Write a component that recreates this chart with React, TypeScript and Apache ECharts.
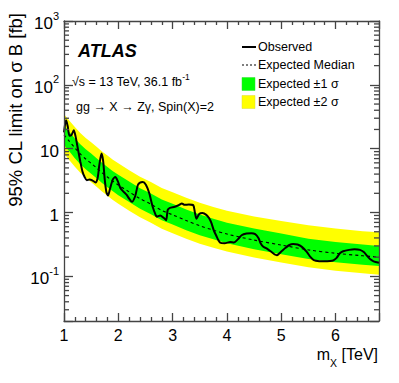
import React, { useEffect, useRef } from "react";
import * as echarts from "echarts";

// ---- data ----
const bandMass = [1.0, 1.1, 1.2, 1.3, 1.4, 1.5, 1.6, 1.7, 1.8, 1.9, 2.0, 2.2, 2.4, 2.6, 2.8, 3.0, 3.25, 3.5, 3.75, 4.0, 4.5, 5.0, 5.5, 6.0, 6.5, 6.8];
const expectedMedian = [16.5, 13.0, 10.3, 8.3, 6.9, 5.9, 5.0, 4.2, 3.6, 3.1, 2.7, 2.1, 1.65, 1.35, 1.08, 0.92, 0.75, 0.62, 0.53, 0.46, 0.37, 0.31, 0.26, 0.23, 0.21, 0.2];
const expectedPlus2 = [34.5, 27.5, 21.8, 17.6, 14.7, 12.6, 10.7, 9.0, 7.8, 6.7, 5.9, 4.6, 3.65, 3.0, 2.42, 2.07, 1.7, 1.42, 1.22, 1.07, 0.87, 0.74, 0.63, 0.56, 0.51, 0.49];
const expectedPlus1 = [23.0, 18.3, 14.5, 11.7, 9.8, 8.4, 7.1, 6.0, 5.15, 4.45, 3.9, 3.05, 2.4, 1.98, 1.6, 1.37, 1.12, 0.93, 0.8, 0.69, 0.56, 0.47, 0.39, 0.345, 0.315, 0.3];
const expectedMinus1 = [11.4, 9.0, 7.1, 5.7, 4.75, 4.05, 3.45, 2.9, 2.5, 2.15, 1.87, 1.46, 1.15, 0.94, 0.76, 0.65, 0.53, 0.44, 0.38, 0.33, 0.265, 0.222, 0.187, 0.166, 0.152, 0.145];
const expectedMinus2 = [8.4, 6.6, 5.2, 4.2, 3.5, 2.98, 2.53, 2.13, 1.83, 1.57, 1.37, 1.07, 0.84, 0.69, 0.555, 0.475, 0.39, 0.325, 0.28, 0.245, 0.197, 0.165, 0.139, 0.122, 0.112, 0.106];

const observedMass = [1.0, 1.02, 1.04, 1.07, 1.1, 1.14, 1.18, 1.21, 1.26, 1.3, 1.34, 1.38, 1.42, 1.47, 1.52, 1.58, 1.62, 1.65, 1.69, 1.72, 1.75, 1.78, 1.81, 1.85, 1.9, 1.945, 1.99, 2.04, 2.09, 2.15, 2.2, 2.25, 2.31, 2.36, 2.4, 2.45, 2.51, 2.57, 2.63, 2.68, 2.71, 2.77, 2.84, 2.88, 2.91, 2.95, 3.04, 3.12, 3.17, 3.22, 3.3, 3.38, 3.41, 3.44, 3.49, 3.55, 3.62, 3.67, 3.71, 3.76, 3.8, 3.87, 3.96, 4.06, 4.13, 4.2, 4.27, 4.36, 4.45, 4.52, 4.58, 4.62, 4.67, 4.73, 4.81, 4.88, 4.92, 5.0, 5.08, 5.15, 5.22, 5.3, 5.38, 5.47, 5.54, 5.6, 5.7, 5.8, 5.9, 5.96, 6.02, 6.08, 6.14, 6.25, 6.35, 6.45, 6.52, 6.58, 6.64, 6.7, 6.8];
const observedLimit = [18, 24, 28, 22, 16, 16.5, 19.5, 16, 9.5, 6.3, 4.4, 3.6, 3.2, 3.3, 3.2, 2.95, 3.5, 5.5, 8.4, 6.5, 3.3, 2.1, 1.85, 2.4, 3.3, 3.6, 3.1, 2.4, 2.15, 1.9, 1.65, 1.47, 1.8, 2.7, 2.95, 3.0, 2.7, 2.0, 1.25, 0.95, 0.86, 0.9, 0.82, 0.76, 1.1, 1.18, 1.23, 1.32, 1.39, 1.32, 1.33, 1.3, 1.0, 0.8, 0.95, 0.98, 0.92, 0.82, 0.7, 0.52, 0.44, 0.34, 0.33, 0.345, 0.34, 0.38, 0.44, 0.47, 0.475, 0.46, 0.4, 0.33, 0.29, 0.275, 0.245, 0.22, 0.215, 0.245, 0.28, 0.31, 0.32, 0.315, 0.29, 0.242, 0.2, 0.18, 0.173, 0.172, 0.174, 0.178, 0.195, 0.23, 0.248, 0.26, 0.265, 0.26, 0.24, 0.21, 0.185, 0.172, 0.163];

const xRange = [1, 6.8];
const yRange = [0.02, 1000];
const yMinorMultipliers = [2, 3, 4, 5, 6, 7, 8, 9];
const yDecades = [0.01, 0.1, 1, 10, 100];

const legendLabels = ["Observed", "Expected Median", "Expected \u00b11 \u03c3", "Expected \u00b12 \u03c3"];
const yTitle = "95% CL limit on \u03c3 B [fb]";

const FONT = "'Liberation Sans', Arial, Helvetica, sans-serif";
const AXIS_COLOR = "#444";

function App() {
  const ref = useRef<HTMLDivElement>(null);
  useEffect(() => {
    if (!ref.current) return;
    const chart = echarts.init(ref.current, undefined, { renderer: "svg" });

    const bandPolygon = (upper: number[], lower: number[], fill: string) => ({
      type: "custom",
      coordinateSystem: "cartesian2d",
      clip: true,
      silent: true,
      data: [[bandMass[0], lower[0]]],
      renderItem: (_p: any, api: any) => {
        const pts: number[][] = [];
        for (let i = 0; i < bandMass.length; i++) pts.push(api.coord([bandMass[i], upper[i]]));
        for (let i = bandMass.length - 1; i >= 0; i--) pts.push(api.coord([bandMass[i], lower[i]]));
        return { type: "polygon", shape: { points: pts }, style: { fill, stroke: null } };
      },
    });

    const minorYValues: number[] = [];
    yDecades.forEach((d) => yMinorMultipliers.forEach((m) => {
      const v = d * m;
      if (v > yRange[0] && v < yRange[1]) minorYValues.push(v);
    }));

    const yTickFormatter = (v: number) => {
      const l = Math.log10(v);
      const e = Math.round(l);
      if (Math.abs(l - e) > 1e-6) return "";
      if (e === 0) return "{b|1}";
      if (e === 1) return "{b|10}";
      return "{b|10}{s|" + (e < 0 ? "-" + -e : String(e)) + "}";
    };

    const xAxisBase = {
      type: "value",
      min: xRange[0],
      max: xRange[1],
      interval: 1,
      z: 10,
      axisLine: { show: true, onZero: false, lineStyle: { color: AXIS_COLOR, width: 1.3 } },
      axisTick: { show: true, inside: true, length: 8, lineStyle: { color: AXIS_COLOR, width: 1.3 } },
      minorTick: { show: true, splitNumber: 5, length: 4, lineStyle: { color: AXIS_COLOR, width: 1.3 } },
      splitLine: { show: false },
      minorSplitLine: { show: false },
    };

    const yAxisBase = {
      type: "log",
      logBase: 10,
      min: yRange[0],
      max: yRange[1],
      z: 10,
      axisLine: { show: true, onZero: false, lineStyle: { color: AXIS_COLOR, width: 1.3 } },
      axisTick: { show: true, inside: true, length: 9, lineStyle: { color: AXIS_COLOR, width: 1.3 } },
      splitLine: { show: false },
    };

    chart.setOption({
      animation: false,
      grid: { left: 64, top: 21, width: 315, height: 300, containLabel: false },
      xAxis: [
        {
          ...xAxisBase,
          position: "bottom",
          axisLabel: {
            show: true,
            margin: 6,
            fontSize: 16,
            fontFamily: FONT,
            color: "#000",
            formatter: (v: number) => (Math.abs(v - Math.round(v)) < 1e-6 ? String(Math.round(v)) : ""),
          },
        },
        { ...xAxisBase, position: "top", axisLabel: { show: false } },
      ],
      yAxis: [
        {
          ...yAxisBase,
          position: "left",
          axisLabel: {
            show: true,
            margin: 5,
            formatter: yTickFormatter,
            rich: {
              b: { fontSize: 17, fontFamily: FONT, color: "#000", lineHeight: 22, verticalAlign: "bottom" },
              s: { fontSize: 11, fontFamily: FONT, color: "#000", lineHeight: 22, verticalAlign: "top" },
            },
          },
        },
        { ...yAxisBase, position: "right", axisLabel: { show: false } },
      ],
      series: [
        bandPolygon(expectedPlus2, expectedMinus2, "#ffff00"),
        bandPolygon(expectedPlus1, expectedMinus1, "#00ff00"),
        {
          type: "line",
          data: bandMass.map((m, i) => [m, expectedMedian[i]]),
          showSymbol: false,
          smooth: 0.3,
          silent: true,
          lineStyle: { color: "#000", width: 1.1, type: [3, 3] },
          z: 3,
        },
        {
          type: "line",
          data: observedMass.map((m, i) => [m, observedLimit[i]]),
          showSymbol: false,
          smooth: 0.25,
          silent: true,
          lineStyle: { color: "#000", width: 2 },
          z: 4,
        },
        {
          type: "custom",
          coordinateSystem: "cartesian2d",
          silent: true,
          z: 11,
          data: [[xRange[0], yRange[0]]],
          renderItem: (_p: any, api: any) => {
            const children: any[] = [];
            minorYValues.forEach((v) => {
              const l = api.coord([xRange[0], v]);
              const r = api.coord([xRange[1], v]);
              children.push({ type: "line", shape: { x1: l[0], y1: l[1], x2: l[0] + 5, y2: l[1] }, style: { stroke: AXIS_COLOR, lineWidth: 1.3 } });
              children.push({ type: "line", shape: { x1: r[0], y1: r[1], x2: r[0] - 5, y2: r[1] }, style: { stroke: AXIS_COLOR, lineWidth: 1.3 } });
            });
            return { type: "group", children };
          },
        },
      ],
      graphic: [
        {
          type: "text",
          x: 78,
          y: 51,
          style: { text: "ATLAS", fontSize: 18, fontWeight: "bold", fontStyle: "italic", fontFamily: FONT, fill: "#000", align: "left", verticalAlign: "middle", textAlign: "left", textVerticalAlign: "middle" },
        },
        {
          type: "text",
          x: 72,
          y: 80,
          style: {
            text: "{a|\u221as = 13 TeV, 36.1 fb}{s|-1}",
            align: "left", verticalAlign: "middle", textAlign: "left", textVerticalAlign: "middle",
            rich: {
              a: { fontSize: 12.5, fontFamily: FONT, fill: "#000", color: "#000", lineHeight: 16, verticalAlign: "bottom" },
              s: { fontSize: 8.5, fontFamily: FONT, fill: "#000", color: "#000", lineHeight: 16, verticalAlign: "top" },
            },
          },
        },
        {
          type: "text",
          x: 76,
          y: 107,
          style: { text: "gg \u2192 X \u2192 Z\u03b3, Spin(X)=2", fontSize: 12.5, fontFamily: FONT, fill: "#000", align: "left", verticalAlign: "middle", textAlign: "left", textVerticalAlign: "middle" },
        },
        { type: "line", shape: { x1: 242, y1: 47, x2: 256, y2: 47 }, style: { stroke: "#000", lineWidth: 2 } },
        { type: "line", shape: { x1: 242, y1: 65, x2: 256, y2: 65 }, style: { stroke: "#000", lineWidth: 1.1, lineDash: [2, 2] } },
        { type: "rect", shape: { x: 242, y: 77.5, width: 13, height: 13 }, style: { fill: "#00ff00", stroke: "#33dd33", lineWidth: 0.5 } },
        { type: "rect", shape: { x: 242, y: 95.5, width: 13, height: 13 }, style: { fill: "#ffff00", stroke: "#dddd33", lineWidth: 0.5 } },
        ...legendLabels.map((t, i) => ({
          type: "text",
          x: 258,
          y: [47, 65, 84, 102][i],
          style: { text: t, fontSize: 12.5, fontFamily: FONT, fill: "#000", align: "left", verticalAlign: "middle", textAlign: "left", textVerticalAlign: "middle" },
        })),
        {
          type: "text",
          x: 15,
          y: 13,
          rotation: Math.PI / 2,
          style: { text: yTitle, fontSize: 18.5, fontFamily: FONT, fill: "#000", align: "right", verticalAlign: "middle", textAlign: "right", textVerticalAlign: "middle" },
        },
        {
          type: "text",
          x: 378,
          y: 357,
          style: {
            text: "{a|m}{sub|X}{a| [TeV]}",
            align: "right", verticalAlign: "middle", textAlign: "right", textVerticalAlign: "middle",
            rich: {
              a: { fontSize: 16, fontFamily: FONT, fill: "#000", color: "#000", lineHeight: 22, verticalAlign: "top" },
              sub: { fontSize: 10.5, fontFamily: FONT, fill: "#000", color: "#000", lineHeight: 22, verticalAlign: "bottom" },
            },
          },
        },
      ],
    });
    return () => chart.dispose();
  }, []);
  return <div ref={ref} style={{ position: "absolute", left: 0, top: 0, width: 399, height: 383 }} />;
}

export default App;
